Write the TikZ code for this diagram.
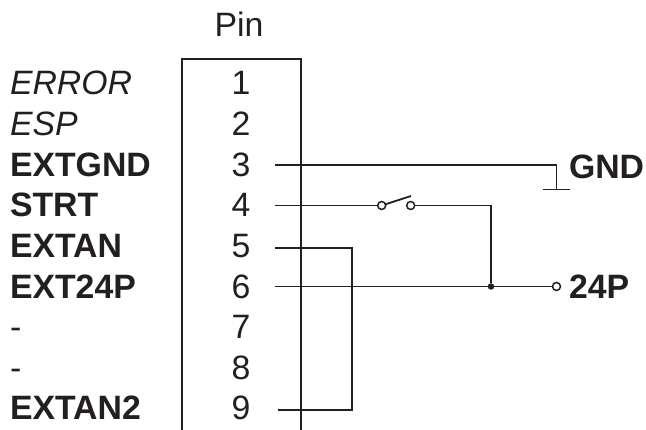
\documentclass[tikz,border=0pt]{standalone}
\usepackage{fontspec}
\setmainfont{Liberation Sans}
\definecolor{ink}{HTML}{231F20}
\tikzset{
  x=1pt,y=-1pt,
  txt/.style={inner sep=0pt,outer sep=0pt,text=ink,font=\fontsize{33.8}{33.8}\selectfont},
  lab/.style={txt,anchor=base west},
  boldlab/.style={lab,font=\fontsize{33.8}{33.8}\selectfont\bfseries},
  itlab/.style={lab,font=\fontsize{33.8}{33.8}\selectfont\itshape},
  pinnum/.style={txt,anchor=base},
  wire/.style={draw=ink,line width=1.8pt,line join=miter},
  contact/.style={circle,draw=ink,fill=white,line width=1.5pt,minimum size=8pt,inner sep=0pt,outer sep=0pt},
  junction/.style={circle,fill=ink,minimum size=6.5pt,inner sep=0pt,outer sep=0pt},
}
\begin{document}
\begin{tikzpicture}
\useasboundingbox (0,0) rectangle (646,430);
\fill[white] (0,0) rectangle (646,430);
% pin box, open at the bottom
\coordinate (boxbl) at (182,430);
\coordinate (boxtl) at (182,59);
\coordinate (boxtr) at (301,59);
\coordinate (boxbr) at (301,430);
\draw[wire] (boxbl) -- (boxtl) -- (boxtr) -- (boxbr);
% header and pin numbers
\node[pinnum] (pin) at (239,36.5) {Pin};
\node[pinnum] (n1) at (241,95) {1};
\node[pinnum] (n2) at (241,135.6) {2};
\node[pinnum] (n3) at (241,176.2) {3};
\node[pinnum] (n4) at (241,216.9) {4};
\node[pinnum] (n5) at (241,257.5) {5};
\node[pinnum] (n6) at (241,298.1) {6};
\node[pinnum] (n7) at (241,338.8) {7};
\node[pinnum] (n8) at (241,379.4) {8};
\node[pinnum] (n9) at (241,420) {9};
% signal names
\node[itlab] (l1) at (10,95) {ERROR};
\node[itlab] (l2) at (10,135.6) {ESP};
\node[boldlab] (l3) at (10,176.2) {EXTGND};
\node[boldlab] (l4) at (10,216.9) {STRT};
\node[boldlab] (l5) at (10,257.5) {EXTAN};
\node[boldlab] (l6) at (10,298.1) {EXT24P};
\node[lab] (l7) at (10,338.8) {-};
\node[lab] (l8) at (10,379.4) {-};
\node[boldlab] (l9) at (10,420) {EXTAN2};
\node[boldlab] (gnd) at (569,179) {GND};
\node[boldlab] (p24) at (569,299) {24P};
% wire points
\coordinate (w3) at (275,165);
\coordinate (g1) at (556.5,165);
\coordinate (g2) at (556.5,189.5);
\coordinate (gl) at (543,189.5);
\coordinate (gr) at (570,189.5);
\coordinate (w4) at (275,205.5);
\coordinate (c4) at (491,205.5);
\coordinate (w5) at (275,248);
\coordinate (c5) at (352,248);
\coordinate (c9) at (352,410);
\coordinate (w9) at (278,410);
\coordinate (w6) at (275,286.5);
\node[contact] (sa) at (381.7,205.5) {};
\node[contact] (sb) at (410.7,205.5) {};
\node[contact] (out) at (556.5,286.5) {};
\node[junction] (j) at (491,286.5) {};
\coordinate (blade) at (411,196);
% wires
\draw[wire] (w3) -- (g1) -- (g2);
\draw[wire] (gl) -- (gr);
\draw[wire] (w4) -- (sa);
\draw[wire] (sa) -- (blade);
\draw[wire] (sb) -- (c4) -- (j);
\draw[wire] (w5) -- (c5) -- (c9) -- (w9);
\draw[wire] (w6) -- (j) -- (out);
\end{tikzpicture}
\end{document}
